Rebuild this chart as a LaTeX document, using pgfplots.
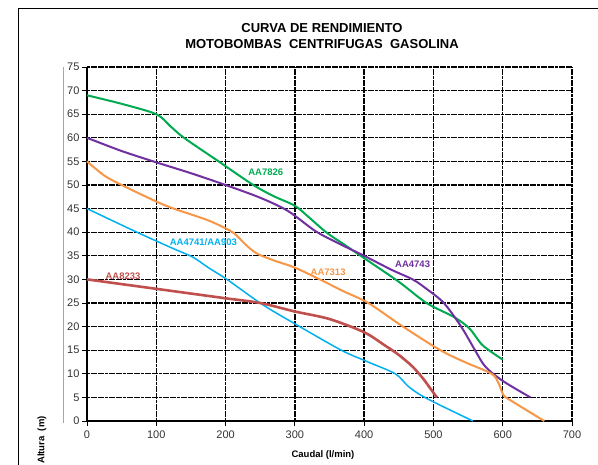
\documentclass[border=0pt]{standalone}
\usepackage{pgfplots}
\pgfplotsset{compat=1.18}
\usepackage{fontspec}
\setmainfont{Liberation Sans}
\definecolor{cgreen}{RGB}{0,170,80}
\definecolor{cpurple}{RGB}{112,48,160}
\definecolor{corange}{RGB}{247,150,70}
\definecolor{cblue}{RGB}{0,176,240}
\definecolor{cred}{RGB}{192,80,77}
\begin{document}
\begin{tikzpicture}
\useasboundingbox (0pt,0pt) rectangle (598pt,465pt);
% outer frame
\draw[black, line width=0.9pt] (18pt,-5pt) -- (18pt,457pt) -- (610pt,457pt);
% gray axis line
\draw[gray!70, line width=1pt] (63pt,398pt) -- (63pt,42pt);
% titles
\node[font=\fontsize{13}{15}\selectfont\bfseries] at (322pt,437pt) {CURVA DE RENDIMIENTO};
\node[font=\fontsize{13}{15}\selectfont\bfseries] at (322pt,421pt) {MOTOBOMBAS\ \ CENTRIFUGAS\ \ GASOLINA};
\node[font=\fontsize{9.5}{11}\selectfont\bfseries] at (323pt,10pt) {Caudal (l/min)};
\node[font=\fontsize{9.5}{11}\selectfont\bfseries, rotate=90] at (42pt,25pt) {Altura\ \ (m)};
\begin{axis}[
  at={(87pt,44pt)}, anchor=origin,
  scale only axis, width=485pt, height=354pt,
  xmin=0, xmax=700, ymin=0, ymax=75,
  xtick={0,100,...,700}, ytick={0,5,...,75},
  axis lines=left, axis line style={-, black, line width=1.1pt},
  tick align=outside, major tick length=5pt,
  tick style={black, line width=0.8pt},
  grid=major,
  major grid style={black, line width=1.3pt, dash pattern=on 3pt off 0.6pt},
  ticklabel style={font=\fontsize{11}{13}\selectfont, text=black!80},
  /pgf/number format/assume math mode=true,
  xticklabel style={yshift=-1pt},
  yticklabel style={xshift=1pt},
  clip=false,
]
% green AA7826
\addplot[cgreen, line width=2pt, smooth] coordinates {
(0,69)(50,67.2)(100,65)(120,62.5)(140,60)(190,55)(240,50)(270,47.6)(300,45.6)(320,43.2)(345,40)(370,37.5)(400,34.5)(450,29.5)(490,25)(530,22)(552,19.6)(568,16.5)(580,15)(600,13)};
% purple AA4743
\addplot[cpurple, line width=2pt, smooth] coordinates {
(0,60)(50,57.2)(100,54.8)(150,52.5)(200,50)(250,47.3)(290,44.5)(330,40.2)(365,37.5)(400,35)(440,32)(470,30)(490,28)(515,25)(540,20)(560,15)(575,11.5)(600,8.5)(640,5)};
% orange AA7313
\addplot[corange, line width=2pt, smooth] coordinates {
(0,55)(25,52)(50,50)(100,46.5)(125,45)(175,42.5)(210,40)(228,37.5)(245,35.5)(270,34)(300,32.5)(336,30)(370,27.5)(406,25)(456,20)(510,15)(545,12.5)(584,10)(594,8)(601,5.5)(610,4.5)(660,0)};
% blue AA4741/AA903
\addplot[cblue, line width=1.5pt, smooth] coordinates {
(0,45)(72,40)(125,36.5)(153,34.7)(175,32.5)(202,30)(254,24.6)(307,20)(367,15)(404,12.6)(445,10)(464,7.3)(490,4.8)(557,0)};
% red AA8233
\addplot[cred, line width=2.6pt, smooth] coordinates {
(0,30)(100,28)(200,26)(250,25)(300,23.2)(350,21.6)(400,18.8)(430,16)(450,14)(470,11.5)(485,9)(495,7)(505,5)};
\node[font=\fontsize{9.5}{11}\selectfont\bfseries, text=cgreen] at (axis cs:258,52.6) {AA7826};
\node[font=\fontsize{9.5}{11}\selectfont\bfseries, text=cpurple] at (axis cs:470,33.2) {AA4743};
\node[font=\fontsize{9.5}{11}\selectfont\bfseries, text=corange] at (axis cs:348,31.6) {AA7313};
\node[font=\fontsize{9.5}{11}\selectfont\bfseries, text=cblue] at (axis cs:168,37.8) {AA4741/AA903};
\node[font=\fontsize{9.5}{11}\selectfont\bfseries, text=cred] at (axis cs:52,30.7) {AA8233};
\end{axis}
\end{tikzpicture}
\end{document}
